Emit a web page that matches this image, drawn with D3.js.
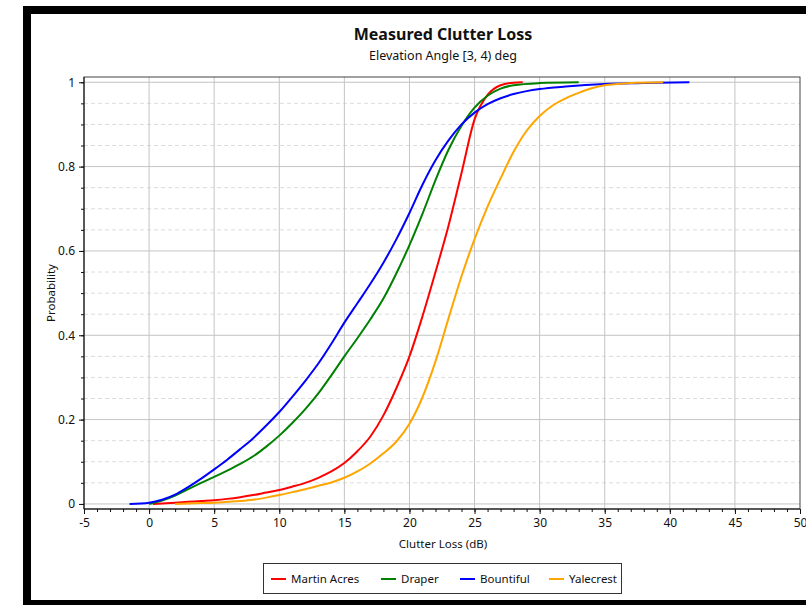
<!DOCTYPE html>
<html>
<head>
<meta charset="utf-8">
<script src="https://cdn.jsdelivr.net/npm/d3@7"></script>
<style>
  body { margin: 0; background: #fff; }
  text { font-family: "Segoe UI", "Noto Sans", "Open Sans", sans-serif; fill: #111; }
</style>
</head>
<body>
<div class="chart-box"></div>
<script>
// series names and colours (legend order)
const seriesNames = ["Martin Acres", "Draper", "Bountiful", "Yalecrest"];
const seriesColors = ["#ff0000", "#008000", "#0000ff", "#ffa500"];

// clutter loss (dB) vs cumulative probability
const martinX = [0.3, 1, 2, 3, 4, 5, 6, 7, 8, 9, 10, 11, 12, 13, 14, 15, 16, 17, 18, 19, 20, 21, 22, 23, 24, 25, 26, 27, 28, 28.7];
const martinP = [0, 0.001, 0.003, 0.005, 0.007, 0.009, 0.012, 0.016, 0.021, 0.027, 0.033, 0.041, 0.05, 0.062, 0.077, 0.097, 0.125, 0.16, 0.21, 0.275, 0.35, 0.445, 0.55, 0.66, 0.785, 0.912, 0.97, 0.993, 0.999, 1];

const draperX = [0, 1, 2, 3, 4, 5, 6, 7, 8, 9, 10, 11, 12, 13, 14, 15, 16, 17, 18, 19, 20, 21, 22, 23, 24, 25, 26, 27, 28, 30, 33];
const draperP = [0, 0.008, 0.02, 0.035, 0.05, 0.064, 0.079, 0.095, 0.113, 0.136, 0.162, 0.192, 0.225, 0.262, 0.305, 0.35, 0.393, 0.438, 0.487, 0.547, 0.614, 0.688, 0.768, 0.84, 0.897, 0.94, 0.968, 0.985, 0.993, 0.998, 1];

const bountX = [-1.5, 0, 1, 2, 3, 4, 5, 6, 7, 8, 9, 10, 11, 12, 13, 14, 15, 16, 17, 18, 19, 20, 21, 22, 23, 24, 25, 26, 27, 28, 29, 30, 32, 35, 38, 41.5];
const bountP = [0, 0.003, 0.01, 0.022, 0.04, 0.06, 0.082, 0.105, 0.13, 0.156, 0.186, 0.218, 0.254, 0.292, 0.333, 0.38, 0.43, 0.476, 0.522, 0.572, 0.628, 0.69, 0.757, 0.815, 0.862, 0.9, 0.928, 0.948, 0.962, 0.972, 0.979, 0.984, 0.99, 0.996, 0.998, 1];

const yaleX = [2, 3, 4, 5, 6, 7, 8, 9, 10, 11, 12, 13, 14, 15, 16, 17, 18, 19, 20, 21, 22, 23, 24, 25, 26, 27, 28, 29, 30, 31, 32, 33, 34, 35, 36, 37, 39.5];
const yaleP = [0, 0.001, 0.002, 0.003, 0.005, 0.007, 0.01, 0.015, 0.021, 0.028, 0.035, 0.043, 0.051, 0.062, 0.077, 0.096, 0.12, 0.148, 0.19, 0.253, 0.338, 0.44, 0.54, 0.628, 0.705, 0.772, 0.835, 0.885, 0.92, 0.945, 0.962, 0.975, 0.986, 0.993, 0.996, 0.998, 1];

const xTicks = [-5, 0, 5, 10, 15, 20, 25, 30, 35, 40, 45, 50];
const yTicks = [0, 0.2, 0.4, 0.6, 0.8, 1];

const seriesX = [martinX, draperX, bountX, yaleX];
const seriesP = [martinP, draperP, bountP, yaleP];
const series = seriesNames.map((name, i) => ({
  name: name,
  color: seriesColors[i],
  values: seriesX[i].map((x, j) => ({x: x, p: seriesP[i][j]}))
}));

const W = 806, H = 605;
const plot = {left: 84, right: 800, top: 77, bottom: 509};

const svg = d3.select(".chart-box").append("svg")
  .attr("width", W)
  .attr("height", H);

// black frame round the chart
svg.append("rect").attr("x", 23).attr("y", 6).attr("width", 900).attr("height", 700).attr("fill", "#000");
svg.append("rect").attr("x", 31).attr("y", 14).attr("width", 900).attr("height", 586).attr("fill", "#fff");

const xScale = d3.scaleLinear().domain([-5, 50]).range([plot.left, plot.right]);
const yScale = d3.scaleLinear().domain([-0.012, 1.0125]).range([plot.bottom, plot.top]);

// grid
const grid = svg.append("g");
grid.selectAll(".ymin")
  .data(d3.range(0, 1.001, 0.05).filter(v => Math.abs(v * 5 - Math.round(v * 5)) > 1e-6))
  .enter().append("line")
  .attr("x1", plot.left).attr("x2", plot.right)
  .attr("y1", d => yScale(d)).attr("y2", d => yScale(d))
  .attr("stroke", "#dcdcdc").attr("stroke-dasharray", "4,3");
grid.selectAll(".ymaj").data(yTicks).enter().append("line")
  .attr("x1", plot.left).attr("x2", plot.right)
  .attr("y1", d => yScale(d)).attr("y2", d => yScale(d))
  .attr("stroke", "#c4c4c4");
grid.selectAll(".xmaj").data(xTicks.slice(1, -1)).enter().append("line")
  .attr("y1", plot.top).attr("y2", plot.bottom)
  .attr("x1", d => xScale(d)).attr("x2", d => xScale(d))
  .attr("stroke", "#c4c4c4");

// plot border
svg.append("rect")
  .attr("x", plot.left).attr("y", plot.top)
  .attr("width", plot.right - plot.left).attr("height", plot.bottom - plot.top)
  .attr("fill", "none").attr("stroke", "#444");

// curves
const line = d3.line()
  .x(d => xScale(d.x))
  .y(d => yScale(d.p))
  .curve(d3.curveMonotoneX);

svg.append("g").selectAll("path")
  .data(series).enter().append("path")
  .attr("d", d => line(d.values))
  .attr("fill", "none")
  .attr("stroke", d => d.color)
  .attr("stroke-width", 2);

// axes
const xAxis = d3.axisBottom(xScale).tickValues(xTicks).tickSize(5).tickPadding(4).tickFormat(d => String(d));
const xMinor = d3.axisBottom(xScale).tickValues(d3.range(-5, 51, 1)).tickSize(3).tickFormat("");
const yAxis = d3.axisLeft(yScale).tickValues(yTicks).tickSize(5).tickPadding(4).tickFormat(d => d === 0 || d === 1 ? d : d.toFixed(1));
const yMinor = d3.axisLeft(yScale).tickValues(d3.range(0, 1.001, 0.05)).tickSize(3).tickFormat("");

function styleAxis(g) {
  g.select(".domain").remove();
  g.selectAll("line").attr("stroke", "#111");
  g.selectAll("text").attr("font-size", 12).attr("fill", "#111")
    .style("font-family", "\"Segoe UI\", \"Noto Sans\", sans-serif");
}

svg.append("g").attr("transform", `translate(0,${plot.bottom})`).call(xMinor).call(styleAxis);
svg.append("g").attr("transform", `translate(0,${plot.bottom})`).call(xAxis).call(styleAxis);
svg.append("g").attr("transform", `translate(${plot.left},0)`).call(yMinor).call(styleAxis);
svg.append("g").attr("transform", `translate(${plot.left},0)`).call(yAxis).call(styleAxis);

svg.append("line").attr("x1", plot.left).attr("x2", plot.right)
  .attr("y1", plot.bottom).attr("y2", plot.bottom).attr("stroke", "#111");
svg.append("line").attr("x1", plot.left).attr("x2", plot.left)
  .attr("y1", plot.top).attr("y2", plot.bottom).attr("stroke", "#111");

// titles
svg.append("text").attr("x", 443).attr("y", 40).attr("text-anchor", "middle")
  .attr("font-size", 16).attr("font-weight", "bold").text("Measured Clutter Loss");
svg.append("text").attr("x", 443).attr("y", 60).attr("text-anchor", "middle")
  .attr("font-size", 12.5).text("Elevation Angle [3, 4) deg");
svg.append("text").attr("x", 443).attr("y", 548).attr("text-anchor", "middle")
  .attr("font-size", 11.5).text("Clutter Loss (dB)");
svg.append("text").attr("transform", "translate(55,293) rotate(-90)").attr("text-anchor", "middle")
  .attr("font-size", 11.5).text("Probability");

// legend
svg.append("rect").attr("x", 263.5).attr("y", 563.5).attr("width", 358).attr("height", 30)
  .attr("fill", "#fff").attr("stroke", "#333");
const legendX = [271, 381, 460, 549];
const leg = svg.append("g").selectAll("g").data(series).enter().append("g")
  .attr("transform", (d, i) => `translate(${legendX[i]},579)`);
leg.append("line").attr("x1", 0).attr("x2", 15).attr("stroke", d => d.color).attr("stroke-width", 2);
leg.append("text").attr("x", 20).attr("y", 4).attr("font-size", 11.5).text(d => d.name);
</script>
</body>
</html>
